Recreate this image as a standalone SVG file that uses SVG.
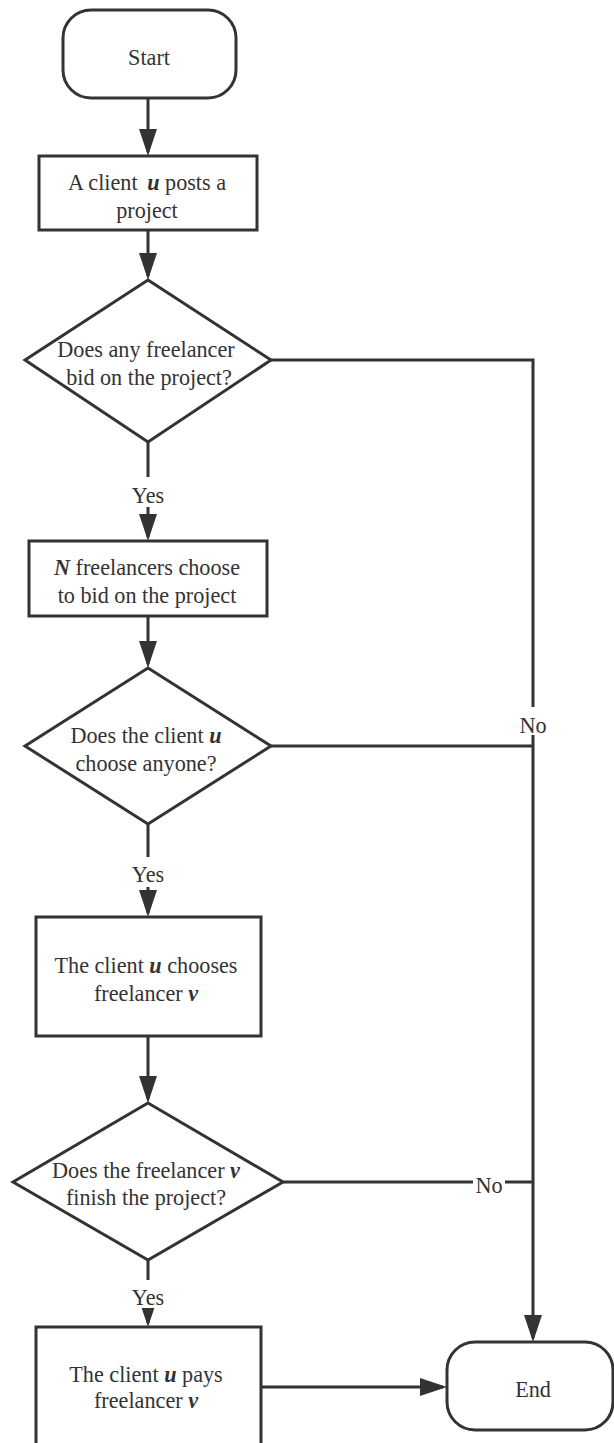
<svg xmlns="http://www.w3.org/2000/svg" width="614" height="1443" viewBox="0 0 614 1443">
<style>
.shape{fill:#fff;stroke:#333;stroke-width:3}
.con{fill:none;stroke:#333;stroke-width:3;marker-end:url(#arr)}
.conn{fill:none;stroke:#333;stroke-width:3}
.t{font-family:'Liberation Serif','Times New Roman',serif;font-size:22.2px;fill:#333;text-anchor:middle}
.v{font-weight:bold;font-style:italic}
.bg{fill:#fff}
</style>
<defs>
<marker id="arr" viewBox="0 0 27 18" refX="23" refY="9" markerWidth="27" markerHeight="18" markerUnits="userSpaceOnUse" orient="auto">
<path d="M0,0 L27,9 L0,18 z" fill="#333"/>
</marker>
</defs>
<rect width="614" height="1443" fill="#fff"/>
<g id="connectors">
<path class="con" d="M148,98 V152"/>
<path class="con" d="M148,230 V276"/>
<path class="con" d="M148,442 V477 M148,507 V537"/>
<path class="con" d="M148,616 V664"/>
<path class="con" d="M148,824 V857 M148,887 V913"/>
<path class="con" d="M148,1036 V1099"/>
<path class="con" d="M148,1260 V1323"/>
<path class="con" d="M271,360 H533 V707 M533,735 V1338"/>
<path class="conn" d="M271,746 H533"/>
<path class="conn" d="M283,1182 H473 M505,1182 H533"/>
<path class="con" d="M261,1387 H443"/>
<rect class="bg" x="131" y="1280" width="34" height="28"/>
<text class="t" x="148" y="503">Yes</text>
<text class="t" x="148" y="882">Yes</text>
<text class="t" x="148" y="1305">Yes</text>
<text class="t" x="533" y="733">No</text>
<text class="t" x="489" y="1193">No</text>
</g>
<g id="start">
<rect class="shape" x="63" y="10" width="173" height="88" rx="28"/>
<text class="t" x="149" y="65">Start</text>
</g>
<g id="post">
<rect class="shape" x="39" y="156" width="218" height="74"/>
<text class="t" x="147" y="190">A client <tspan class="v" dx="4">u</tspan> posts a</text>
<text class="t" x="147" y="218">project</text>
</g>
<g id="q1">
<polygon class="shape" points="148,280 271,360 148,442 25,360"/>
<text class="t" x="146" y="357">Does any freelancer</text>
<text class="t" x="149" y="385">bid on the project?</text>
</g>
<g id="bid">
<rect class="shape" x="29" y="541" width="238" height="75"/>
<text class="t" x="147" y="575"><tspan class="v">N</tspan> freelancers choose</text>
<text class="t" x="147" y="603">to bid on the project</text>
</g>
<g id="q2">
<polygon class="shape" points="148,668 271,746 148,824 25,746"/>
<text class="t" x="146" y="743">Does the client <tspan class="v">u</tspan></text>
<text class="t" x="146" y="771">choose anyone?</text>
</g>
<g id="choose">
<rect class="shape" x="36" y="917" width="225" height="119"/>
<text class="t" x="146" y="973">The client <tspan class="v">u</tspan> chooses</text>
<text class="t" x="146" y="1001">freelancer <tspan class="v">v</tspan></text>
</g>
<g id="q3">
<polygon class="shape" points="148,1103 283,1182 148,1260 13,1182"/>
<text class="t" x="146" y="1178">Does the freelancer <tspan class="v">v</tspan></text>
<text class="t" x="146" y="1205">finish the project?</text>
</g>
<g id="pay">
<rect class="shape" x="36" y="1327" width="225" height="140"/>
<text class="t" x="146" y="1382">The client <tspan class="v">u</tspan> pays</text>
<text class="t" x="146" y="1408">freelancer <tspan class="v">v</tspan></text>
</g>
<g id="end">
<rect class="shape" x="447" y="1342" width="166" height="88" rx="28"/>
<text class="t" x="533" y="1397">End</text>
</g>
</svg>
